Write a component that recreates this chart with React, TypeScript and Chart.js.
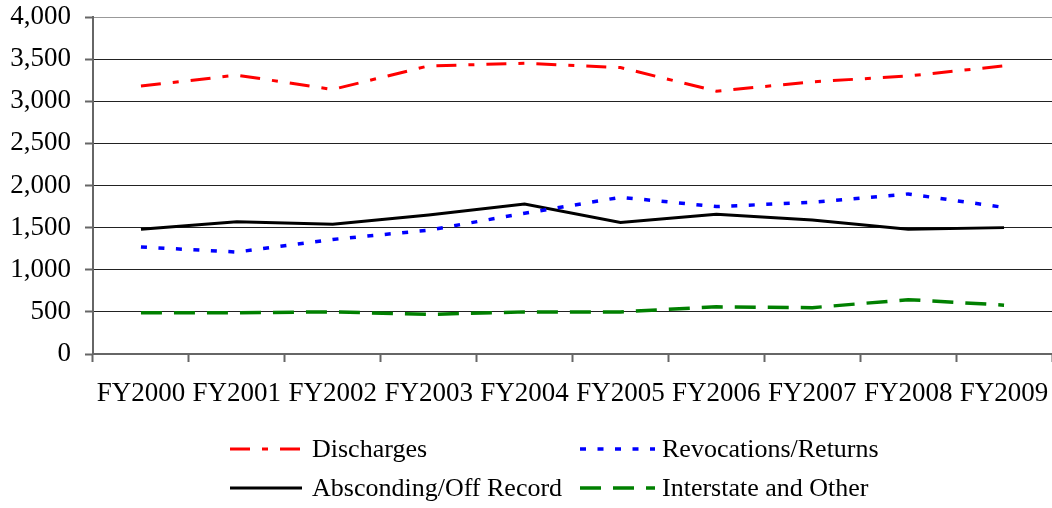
import React, { useEffect, useRef } from "react";
import { Chart, registerables } from "chart.js";

Chart.register(...registerables);

const categories = ["FY2000", "FY2001", "FY2002", "FY2003", "FY2004", "FY2005", "FY2006", "FY2007", "FY2008", "FY2009"];
const discharges = [3180, 3310, 3140, 3420, 3450, 3400, 3120, 3230, 3300, 3420];
const revocations = [1270, 1210, 1360, 1470, 1670, 1860, 1750, 1800, 1900, 1740];
const absconding = [1480, 1570, 1540, 1650, 1780, 1560, 1660, 1590, 1480, 1500];
const interstate = [490, 490, 500, 470, 500, 500, 560, 550, 645, 580];
const seriesNames = ["Discharges", "Revocations/Returns", "Absconding/Off Record", "Interstate and Other"];

const FONT = '"Liberation Serif", "Times New Roman", serif';

const legendPlugin = {
  id: "customLegend",
  afterDraw(chart: any) {
    const ctx = chart.ctx;
    const ds = chart.data.datasets;
    const slots = [
      [0, 0, 0],
      [1, 1, 0],
      [2, 0, 1],
      [3, 1, 1],
    ];
    const cols = [
      { x0: 230, x1: 302, tx: 312 },
      { x0: 580, x1: 655, tx: 662 },
    ];
    const rows = [449, 488];
    ctx.save();
    for (const [i, c, r] of slots) {
      const d = ds[i];
      const col = cols[c];
      const y = rows[r];
      ctx.beginPath();
      ctx.strokeStyle = d.borderColor;
      ctx.lineWidth = d.borderWidth;
      ctx.setLineDash(d.borderDash || []);
      ctx.lineCap = "butt";
      ctx.moveTo(col.x0, y);
      ctx.lineTo(col.x1, y);
      ctx.stroke();
      ctx.setLineDash([]);
      ctx.fillStyle = "#000";
      ctx.font = `26px ${FONT}`;
      ctx.textBaseline = "middle";
      ctx.textAlign = "left";
      ctx.fillText(d.label, col.tx, y + 1);
    }
    ctx.restore();
  },
};

export default function App() {
  const ref = useRef<HTMLCanvasElement>(null);
  useEffect(() => {
    if (!ref.current) return;
    const chart = new Chart(ref.current, {
      type: "line",
      data: {
        labels: categories,
        datasets: [
          { label: seriesNames[0], data: discharges, borderColor: "#ff0000", borderWidth: 3, borderDash: [20, 12, 6, 12], pointRadius: 0, tension: 0, fill: false },
          { label: seriesNames[1], data: revocations, borderColor: "#0000ff", borderWidth: 3.5, borderDash: [6, 11.5], pointRadius: 0, tension: 0, fill: false },
          { label: seriesNames[2], data: absconding, borderColor: "#000000", borderWidth: 3, pointRadius: 0, tension: 0, fill: false },
          { label: seriesNames[3], data: interstate, borderColor: "#008000", borderWidth: 3.5, borderDash: [21, 12], pointRadius: 0, tension: 0, fill: false },
        ],
      },
      options: {
        animation: false,
        responsive: false,
        layout: { padding: { top: 17, right: 0, left: 0, bottom: 0 } },
        plugins: { legend: { display: false }, tooltip: { enabled: false } },
        scales: {
          x: {
            type: "category",
            offset: true,
            grid: { offset: true, drawOnChartArea: false, tickLength: 8, tickColor: "#666", tickWidth: 2 },
            border: { color: "#666", width: 2 },
            ticks: { color: "#000", font: { family: FONT, size: 27 }, padding: 16, maxRotation: 0, autoSkip: false },
            afterFit: (s: any) => {
              s.height = 154;
              s.paddingLeft = 0;
              s.paddingRight = 0;
            },
          },
          y: {
            min: 0,
            max: 4000,
            grid: { color: (c: any) => (c.tick && c.tick.value === 4000 ? "#999" : "#222"), lineWidth: 1, tickLength: 8, tickColor: "#666", tickWidth: 2 },
            border: { color: "#666", width: 2 },
            ticks: {
              stepSize: 500,
              color: "#000",
              font: { family: FONT, size: 27 },
              padding: 14,
              callback: (v: any) => Number(v).toLocaleString("en-US"),
            },
            afterFit: (s: any) => {
              s.width = 93;
              s.paddingTop = 0;
              s.paddingBottom = 0;
            },
          },
        },
      },
      plugins: [legendPlugin],
    });
    return () => chart.destroy();
  }, []);
  return (
    <div style={{ position: "fixed", left: 0, top: 0, width: 1052, height: 508, overflow: "hidden", background: "#fff" }}>
      <canvas ref={ref} width={1052} height={508} style={{ width: 1052, height: 508, display: "block" }} />
    </div>
  );
}
